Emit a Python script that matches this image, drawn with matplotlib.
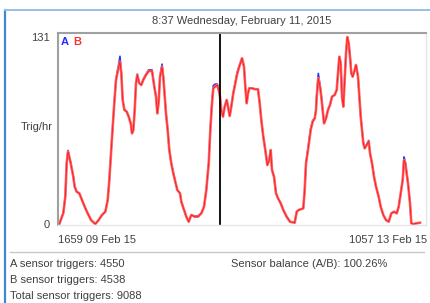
import matplotlib
matplotlib.use("Agg")
import matplotlib.pyplot as plt
from matplotlib.lines import Line2D

plt.rcParams['font.family'] = ['Liberation Sans', 'DejaVu Sans']

title = "8:37 Wednesday, February 11, 2015"
start_label = "1659 09 Feb 15"
end_label = "1057 13 Feb 15"
y_labels = ["0", "131"]
y_ticks = [0, 131]
cursor_hour = 39.63
x_span = 90.0

hours = [0.32, 1.30, 1.79, 2.13, 2.45, 2.76, 3.11, 3.42, 3.74, 4.08, 4.57, 5.21, 5.87, 6.53, 7.26, 8.07,
         9.12, 9.95, 10.76, 11.57, 12.16, 12.55, 12.96, 13.38, 13.77, 14.19, 14.67, 15.16, 15.48, 15.82,
         16.22, 16.80, 17.29, 17.78, 18.10, 18.42, 18.76, 19.08, 19.39, 19.88, 20.37, 20.86, 21.52, 22.18,
         22.99, 23.55, 23.97, 24.29, 24.63, 24.95, 25.44, 25.75, 26.10, 26.41, 26.83, 27.22, 27.71, 28.20,
         28.69, 29.18, 29.84, 30.16, 30.82, 31.38, 31.96, 32.60, 33.43, 34.24, 35.05, 35.71, 36.27, 36.86,
         37.25, 37.66, 37.98, 38.47, 38.96, 39.30, 39.62, 39.94, 40.35, 40.77, 41.26, 41.58, 41.99, 42.38,
         42.87, 43.36, 43.85, 44.34, 45.00, 45.49, 45.81, 46.15, 46.47, 46.79, 47.45, 48.25, 48.91, 49.33,
         49.72, 50.21, 50.70, 51.19, 51.68, 52.02, 52.34, 52.83, 53.32, 53.81, 54.47, 55.10, 55.93, 56.74,
         57.89, 58.38, 58.87, 59.99, 60.33, 60.65, 61.14, 61.46, 61.80, 62.29, 62.78, 63.10, 63.27, 63.66,
         64.08, 64.40, 64.74, 65.06, 65.55, 66.03, 66.52, 67.01, 67.67, 68.16, 68.48, 68.80, 69.14, 69.46,
         69.78, 70.12, 70.44, 70.75, 71.10, 71.41, 71.73, 72.07, 72.56, 72.88, 73.37, 73.69, 74.03, 74.35,
         74.67, 75.01, 75.50, 75.99, 76.31, 76.80, 77.29, 77.78, 78.43, 78.92, 79.56, 80.22, 80.88, 81.52,
         82.18, 82.84, 83.32, 83.81, 84.30, 84.62, 84.94, 85.28, 85.60, 86.09, 86.41, 86.90, 87.73, 88.53]

sensor_b = [0, 7.7, 19.1, 42.7, 50.6, 47.1, 42.7, 37.8, 33.1, 26.1, 22.6, 21.5, 16.8, 12.1, 7.5, 2.8,
            0, 2.8, 6.3, 8.6, 16.8, 30.8, 49.7, 68.2, 84.6, 100.9, 107.9, 113.7, 105.6, 86.9,
            79.9, 78.7, 75.2, 70.5, 63.5, 65.8, 79.9, 98.6, 104.4, 98.6, 97.4, 100.9, 104.4, 107.2,
            107.2, 96.2, 89.2, 77.5, 85.7, 103.2, 110.2, 103.2, 89.2, 77.5, 65.8, 51.8, 42.5, 35.5,
            29.6, 23.8, 21.5, 15.6, 9.8, 5.1, 1.6, 6.3, 5.1, 5.1, 7.5, 12.1, 23.8, 42.5,
            65.8, 84.6, 95.1, 96.2, 97.4, 93.9, 89.2, 79.9, 75.2, 82.2, 86.9, 82.2, 75.7, 82.2,
            91.6, 98.6, 105.6, 110.2, 116.1, 110.2, 96.2, 84.6, 91.6, 95.1, 95.1, 94.4, 94.4, 84.6,
            72.9, 61.2, 51.8, 41.3, 44.8, 51.8, 37.8, 33.1, 21.5, 18.0, 14.5, 9.8, 5.1, 1.6,
            0.9, 8.6, 9.8, 11.0, 23.8, 42.5, 51.8, 58.8, 65.8, 71.7, 74.0, 79.9, 89.2, 102.1,
            96.2, 89.2, 79.9, 70.5, 74.0, 79.9, 83.4, 89.2, 90.4, 93.9, 105.6, 117.2, 112.6, 89.2,
            82.2, 100.9, 119.6, 131.0, 126.6, 117.2, 105.6, 103.2, 107.9, 111.4, 103.2, 89.2, 75.2, 65.8,
            56.5, 53.0, 55.3, 57.7, 49.5, 42.5, 33.1, 26.1, 19.1, 12.1, 6.3, 2.8, 1.6, 7.5,
            8.6, 7.5, 12.1, 21.5, 30.8, 44.8, 42.5, 35.5, 28.5, 14.5, 0.5, 0, 0.5, 0.9]

sensor_a = [0, 7.7, 20.0, 43.5, 51.5, 47.1, 42.7, 37.8, 33.5, 26.1, 22.6, 21.5, 16.8, 12.1, 7.5, 2.8,
            0, 2.8, 6.3, 8.6, 16.8, 30.8, 49.7, 68.2, 85.5, 101.5, 109.0, 117.5, 106.5, 86.9,
            80.5, 78.7, 75.2, 70.5, 63.5, 65.8, 79.9, 98.6, 105.0, 98.6, 97.4, 101.5, 105.0, 108.0,
            108.0, 96.2, 89.2, 77.5, 85.7, 103.2, 112.0, 103.2, 89.2, 77.5, 65.8, 51.8, 42.5, 36.0,
            29.6, 23.8, 21.5, 15.6, 9.8, 5.1, 1.6, 6.3, 5.6, 5.6, 7.5, 12.1, 23.8, 43.0,
            66.5, 85.5, 97.0, 98.0, 98.0, 93.9, 89.2, 79.9, 75.2, 82.2, 86.9, 82.2, 75.7, 82.2,
            92.0, 99.0, 106.5, 111.0, 116.1, 110.2, 96.2, 84.6, 91.6, 95.1, 95.1, 94.4, 94.4, 84.6,
            72.9, 61.2, 51.8, 42.0, 45.5, 51.8, 37.8, 33.1, 21.5, 18.0, 14.5, 9.8, 5.1, 1.6,
            0.9, 8.6, 9.8, 11.0, 23.8, 42.5, 53.0, 60.0, 67.0, 72.5, 74.0, 79.9, 90.0, 105.5,
            97.5, 89.2, 79.9, 70.5, 74.0, 79.9, 83.4, 89.2, 90.4, 93.9, 105.6, 117.2, 112.6, 89.2,
            82.2, 100.9, 119.6, 129.0, 126.6, 118.0, 106.5, 103.2, 107.9, 111.4, 103.2, 89.2, 75.2, 66.5,
            57.0, 53.0, 56.0, 58.5, 49.5, 42.5, 33.1, 26.1, 19.1, 12.1, 6.3, 2.8, 1.6, 7.5,
            8.6, 7.5, 12.1, 21.5, 30.8, 47.0, 43.5, 35.5, 28.5, 14.5, 0.5, 0, 0.5, 0.9]

summary_left = ["A sensor triggers: 4550", "B sensor triggers: 4538", "Total sensor triggers: 9088"]
summary_right = "Sensor balance (A/B): 100.26%"

W, H = 430, 303
fig = plt.figure(figsize=(W / 100, H / 100), dpi=100)
fig.patch.set_facecolor("white")

def fx(px):
    return px / W

def fy(py):
    return 1 - py / H

TXT = "#404040"
FS = 8

# window frame
fig.add_artist(Line2D([fx(5), fx(5)], [fy(10), fy(303)], color="#3a8ad6", lw=1.6))
fig.add_artist(Line2D([fx(5), fx(430)], [fy(10), fy(10)], color="#94c0ea", lw=1.4))

ax = fig.add_axes([fx(58), fy(225), (426 - 58) / W, (225 - 33) / H])
ax.plot(hours, sensor_a, color="#3030ff", lw=1.2)
ax.plot(hours, sensor_b, color="#ff7070", lw=1.9)
ax.plot(hours, sensor_b, color="#ff1e1e", lw=0.7)
ax.axvline(cursor_hour, color="black", lw=1.3)
ax.set_xlim(0, x_span)
ax.set_ylim(-0.7, 133.8)
ax.set_xticks([])
ax.set_yticks(y_ticks)
ax.set_yticklabels(y_labels, fontsize=FS, color=TXT)
ax.tick_params(axis="y", length=0, pad=6)
for s in ["top", "left"]:
    ax.spines[s].set_color("#a0a0a0")
    ax.spines[s].set_linewidth(1.5)
for s in ["right", "bottom"]:
    ax.spines[s].set_color("#e6e6e6")
    ax.spines[s].set_linewidth(1.0)

ax.text(0.008, 0.955, "A", transform=ax.transAxes, color="#2a2aff", fontsize=8,
        fontweight="bold", ha="left", va="center")
ax.text(0.042, 0.955, "B", transform=ax.transAxes, color="#ff3030", fontsize=8,
        fontweight="bold", ha="left", va="center")

fig.text(fx(53), fy(127), "Trig/hr", fontsize=FS, color=TXT, ha="right", va="center")
fig.text(fx(242), fy(21), title, fontsize=FS, color=TXT, ha="center", va="center")
fig.text(fx(58), fy(240), start_label, fontsize=FS, color=TXT, ha="left", va="center")
fig.text(fx(427), fy(240), end_label, fontsize=FS, color=TXT, ha="right", va="center")

fig.add_artist(Line2D([fx(10), fx(424)], [fy(252), fy(252)], color="#c8c8c8", lw=1.0))

for i, t in enumerate(summary_left):
    fig.text(fx(10), fy(264 + 16 * i), t, fontsize=FS, color=TXT, ha="left", va="center")
fig.text(fx(231), fy(264), summary_right, fontsize=FS, color=TXT, ha="left", va="center")

fig.savefig("out.png", dpi=100, facecolor="white")
